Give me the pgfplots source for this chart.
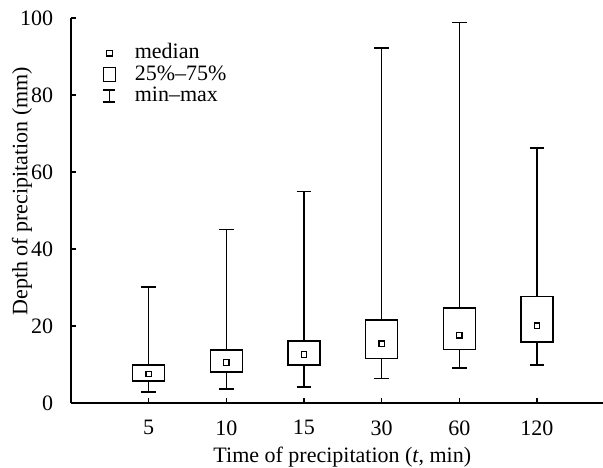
\documentclass[border=0pt]{standalone}
\usepackage{fontspec}
\setmainfont{Liberation Serif}
\usepackage{pgfplots}
\pgfplotsset{compat=1.18}
\usepgfplotslibrary{statistics}
\begin{document}
\begin{tikzpicture}
\begin{axis}[
    name=ax,
    scale only axis,
    width=266pt, height=192.5pt,
    xmin=0, xmax=6.85,
    ymin=0, ymax=100,
    axis lines=left,
    axis line style={-, line width=0.7pt},
    tick align=inside,
    major tick length=2.5pt,
    tick style={black, line width=0.6pt},
    xtick={1,...,6},
    xticklabels={5,10,15,30,60,120},
    ytick={0,20,...,100},
    xticklabel style={yshift=-5.2pt},
    yticklabel style={xshift=-5.4pt},
    /pgf/number format/assume math mode=true,
    font=\fontsize{11}{13}\selectfont,
    xlabel={Time of precipitation (\textit{t}, min)},
    ylabel={Depth of precipitation (mm)},
    xlabel style={at={(axis description cs:0.51,0)}, anchor=north, yshift=-18.5pt},
    ylabel style={at={(axis description cs:-0.092,0.55)}, anchor=center},
    legend style={draw=none, fill=none, inner sep=0pt, outer sep=0pt,
        at={(axis cs:0.335,93.6)}, anchor=north west,
        nodes={inner sep=0.5pt, text height=7.5pt, text depth=2pt},
        row sep=0.25pt},
    legend cell align=left,
    boxplot/draw direction=y,
    boxplot/box extend=0.41,
    boxplot/whisker extend=0.19,
    boxplot/draw/median/.code={
        \node[draw, line width=0.6pt, fill=white, inner sep=0pt, minimum size=2.7pt]
            at (boxplot box cs:\pgfplotsboxplotvalue{median},0.5) {};
    },
]
\addlegendimage{legend image code/.code={
    \path (0pt,0pt) (14pt,0pt);
    \draw[line width=0.6pt] (4.6pt,-1.4pt) rectangle (7.4pt,1.4pt);}}
\addlegendentry{median}
\addlegendimage{legend image code/.code={
    \path (0pt,0pt) (18pt,0pt);
    \draw[line width=0.7pt] (3pt,-3.5pt) rectangle (9pt,3.5pt);}}
\addlegendentry{25\%–75\%}
\addlegendimage{legend image code/.code={
    \path (0pt,0pt) (18pt,0pt);
    \draw[line width=0.7pt] (6pt,-3pt) -- (6pt,3pt);
    \draw[line width=0.7pt] (3pt,3pt) -- (9pt,3pt);
    \draw[line width=0.7pt] (3pt,-3pt) -- (9pt,-3pt);}}
\addlegendentry{min–max}

\addplot[black, line width=0.7pt, forget plot, boxplot prepared={draw position=1,
    lower whisker=2.9, lower quartile=5.7, median=7.5,
    upper quartile=9.9, upper whisker=30.1}] coordinates {};
\addplot[black, line width=0.7pt, forget plot, boxplot prepared={draw position=2,
    lower whisker=3.6, lower quartile=8.0, median=10.5,
    upper quartile=13.8, upper whisker=45.0}] coordinates {};
\addplot[black, line width=0.7pt, forget plot, boxplot prepared={draw position=3,
    lower whisker=4.2, lower quartile=9.9, median=12.6,
    upper quartile=16.1, upper whisker=55.0}] coordinates {};
\addplot[black, line width=0.7pt, forget plot, boxplot prepared={draw position=4,
    lower whisker=6.4, lower quartile=11.5, median=15.4,
    upper quartile=21.6, upper whisker=92.2}] coordinates {};
\addplot[black, line width=0.7pt, forget plot, boxplot prepared={draw position=5,
    lower whisker=9.1, lower quartile=13.9, median=17.6,
    upper quartile=24.7, upper whisker=98.8}] coordinates {};
\addplot[black, line width=0.7pt, forget plot, boxplot prepared={draw position=6,
    lower whisker=9.9, lower quartile=15.8, median=20.1,
    upper quartile=27.6, upper whisker=66.2}] coordinates {};
\end{axis}
\pgfresetboundingbox
\path[use as bounding box] ([shift={(-35.5pt,-32.5pt)}]ax.south west)
    rectangle ([shift={(0pt,9pt)}]ax.north east);
\end{tikzpicture}
\end{document}
